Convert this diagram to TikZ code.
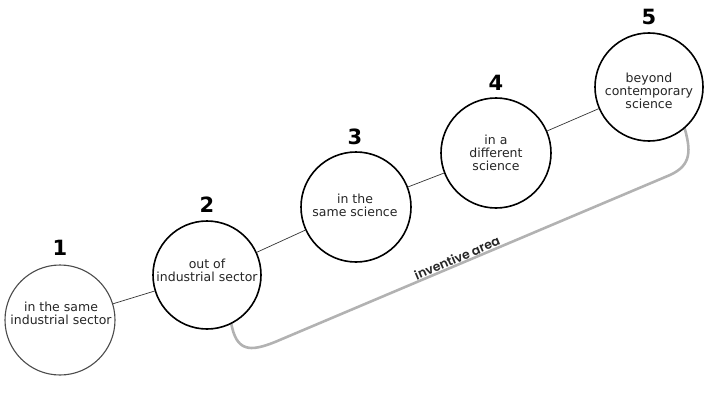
\documentclass[tikz,border=0pt]{standalone}
\usepackage{fontspec}
\setmainfont{DejaVu Sans}
\newfontfamily\geofont{Poppins SemiBold}
\begin{document}
\begin{tikzpicture}[x=1pt,y=-1pt,
  stage/.style={circle,draw=black,line width=1.6pt,fill=white,minimum size=110pt,inner sep=0pt},
  firststage/.style={stage,draw=black!70,line width=1.1pt},
  lbl/.style={align=center,font=\fontsize{12.5}{13.3}\selectfont,text=black!85},
  num/.style={font=\fontsize{21}{21}\bfseries\selectfont},
  link/.style={draw=black!80,line width=0.7pt},
  bracket/.style={draw=black!30,line width=2.6pt}]
\useasboundingbox (0,0) rectangle (711,404);
% gray bracket
\draw[bracket] (231,322) .. controls (236,352) and (250,352) .. (275,342) -- (670,175) .. controls (692,165) and (691,150) .. (684,126);
\node[font=\fontsize{12.5}{12.5}\geofont,rotate=23,text=black!85] (area) at (457,258) {inventive area};
% circles
\node[firststage] (c1) at (60,320) {};
\node[stage,minimum size=108pt] (c2) at (207,275) {};
\node[stage,minimum size=110pt] (c3) at (356,207) {};
\node[stage,minimum size=110pt] (c4) at (496,153) {};
\node[stage,minimum size=108pt] (c5) at (649,87) {};
\draw[link] (c1) -- (c2);
\draw[link] (c2) -- (c3);
\draw[link] (c3) -- (c4);
\draw[link] (c4) -- (c5);
% labels
\node[lbl] (t1) at (61,313) {in the same\\industrial sector};
\node[lbl] (t2) at (207,270) {out of\\industrial sector};
\node[lbl] (t3) at (355,205) {in the\\same science};
\node[lbl] (t4) at (496,153) {in a\\different\\science};
\node[lbl] (t5) at (649,91) {beyond\\contemporary\\science};
% numbers
\node[num] (n1) at (60,248) {1};
\node[num] (n2) at (207,205) {2};
\node[num] (n3) at (355,137) {3};
\node[num] (n4) at (496,83) {4};
\node[num] (n5) at (649,17) {5};
\end{tikzpicture}
\end{document}
